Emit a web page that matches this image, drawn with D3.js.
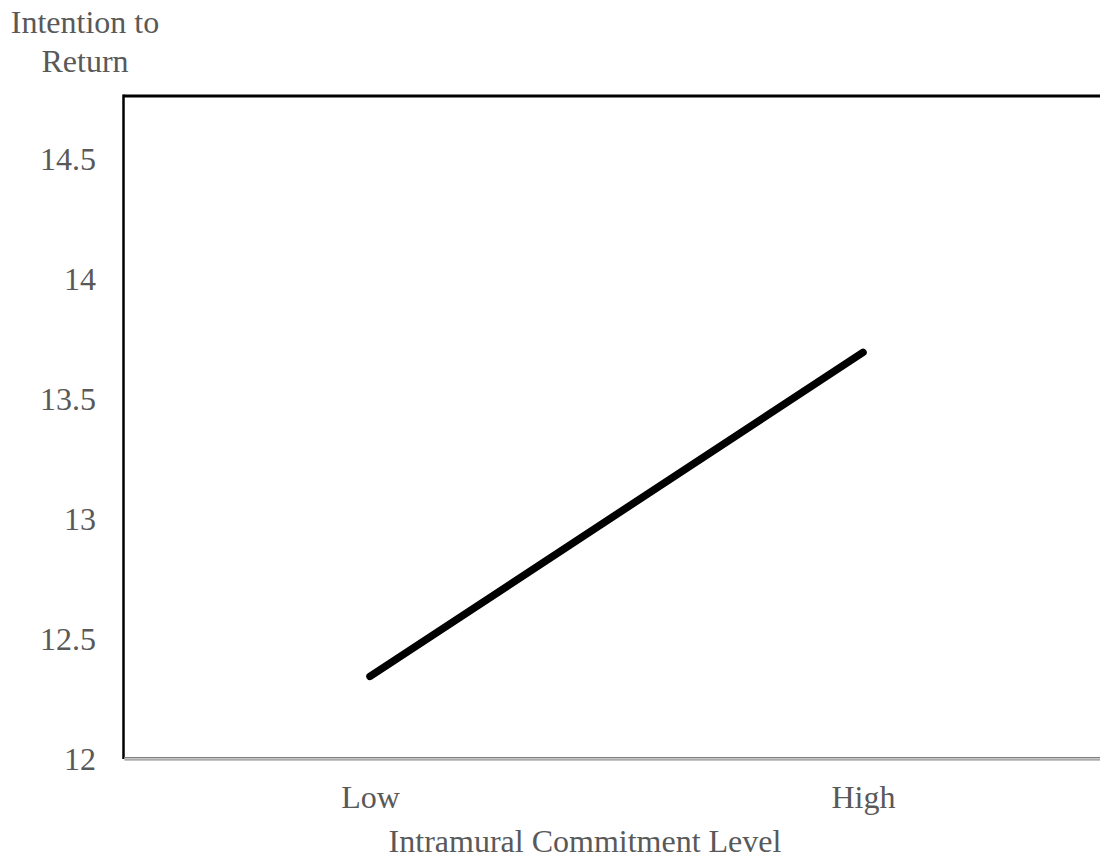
<!DOCTYPE html>
<html>
<head>
<meta charset="utf-8">
<script src="https://cdn.jsdelivr.net/npm/d3@7"></script>
<style>
  html, body { margin: 0; padding: 0; background: #fff; overflow: hidden; }
  text { font-family: "Liberation Serif", "Times New Roman", serif; fill: #595959; }
</style>
</head>
<body>
<svg id="chart" width="1100" height="859"></svg>
<script>
const categories = ["Low", "High"];
const values = [12.34, 13.69];
const yTicks = [12, 12.5, 13, 13.5, 14, 14.5];
const yTitle = ["Intention to", "Return"];
const xTitle = "Intramural Commitment Level";

const svg = d3.select("#chart");
const plotLeft = 123.5, plotRight = 1109.5, plotTop = 96, plotBottom = 758;

const x = d3.scalePoint().domain(categories).range([plotLeft, plotRight]).padding(0.5);
const y = d3.scaleLinear().domain([12, 14.7583]).range([plotBottom, plotTop]);

// frame: top black line, left black line, bottom gray double line
svg.append("line").attr("x1", plotLeft).attr("x2", 1100).attr("y1", plotTop).attr("y2", plotTop)
  .attr("stroke", "#000").attr("stroke-width", 3);
svg.append("line").attr("x1", plotLeft).attr("x2", plotLeft).attr("y1", plotTop - 1.5).attr("y2", plotBottom + 1)
  .attr("stroke", "#000").attr("stroke-width", 2.5);
svg.append("rect").attr("x", plotLeft + 1).attr("y", plotBottom - 1).attr("width", 1100 - plotLeft).attr("height", 3)
  .attr("fill", "#c8c8c8");
svg.append("line").attr("x1", plotLeft + 1).attr("x2", 1100).attr("y1", plotBottom - 0.5).attr("y2", plotBottom - 0.5)
  .attr("stroke", "#7f7f7f").attr("stroke-width", 1);
svg.append("line").attr("x1", plotLeft + 1).attr("x2", 1100).attr("y1", plotBottom + 2).attr("y2", plotBottom + 2)
  .attr("stroke", "#8c8c8c").attr("stroke-width", 1);

// y axis labels
const yAxis = d3.axisLeft(y).tickValues(yTicks).tickSize(0).tickPadding(0).tickFormat(d3.format("~g"));
const gy = svg.append("g").attr("transform", `translate(96,0)`).call(yAxis);
gy.select(".domain").remove();
gy.selectAll("text").attr("font-size", 32).attr("fill", "#595959")
  .attr("font-family", "Liberation Serif, serif").attr("dy", "0.35em");

// x axis labels
const xAxis = d3.axisBottom(x).tickSize(0).tickPadding(0);
const gx = svg.append("g").attr("transform", `translate(0,797)`).call(xAxis);
gx.select(".domain").remove();
gx.selectAll("text").attr("font-size", 32).attr("fill", "#595959")
  .attr("font-family", "Liberation Serif, serif").attr("dy", "0.35em");

// titles
svg.append("text").attr("x", 585).attr("y", 852).attr("text-anchor", "middle")
  .attr("font-size", 32).text(xTitle);
svg.append("text").attr("x", 85).attr("text-anchor", "middle").attr("font-size", 32)
  .selectAll("tspan").data(yTitle).join("tspan")
  .attr("x", 85).attr("y", (d, i) => 33 + i * 39).text(d => d);

// data line
const line = d3.line().x((d, i) => x(categories[i])).y(d => y(d));
svg.append("path").datum(values).attr("d", line)
  .attr("fill", "none").attr("stroke", "#000").attr("stroke-width", 7.5)
  .attr("stroke-linecap", "round");
</script>
</body>
</html>
